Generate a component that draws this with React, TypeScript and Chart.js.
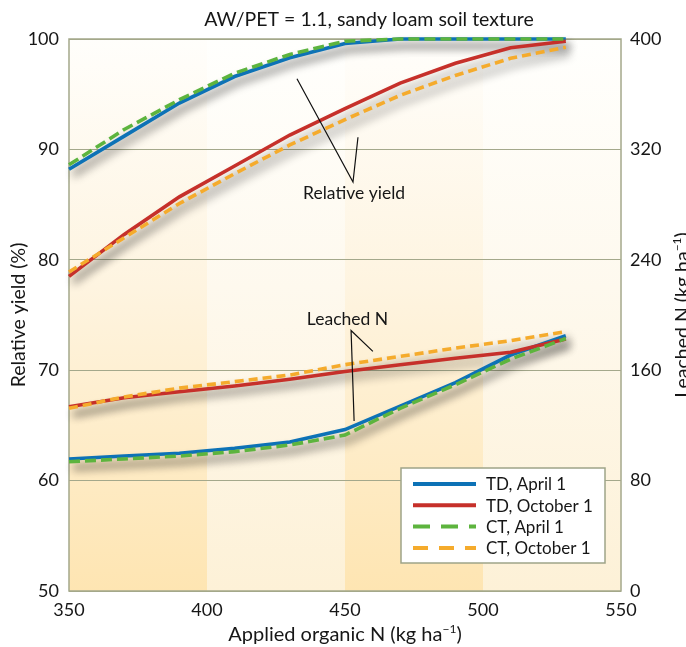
import React, { useEffect, useRef } from 'react';
import { Chart, registerables } from 'chart.js';

Chart.register(...registerables);

// ---------- data ----------
const appliedN = [350, 370, 390, 410, 430, 450, 470, 490, 510, 530];
const seriesLabels = ['TD, April 1', 'TD, October 1', 'CT, April 1', 'CT, October 1'];

const yieldTDApril = [88.2, 91.2, 94.2, 96.6, 98.3, 99.6, 100, 100, 100, 100];
const yieldTDOctober = [78.5, 82.3, 85.7, 88.5, 91.3, 93.7, 96.0, 97.8, 99.2, 99.8];
const yieldCTApril = [88.6, 91.8, 94.5, 96.9, 98.6, 99.8, 100, 100, 100, 100];
const yieldCTOctober = [78.9, 82.0, 85.1, 87.8, 90.4, 92.7, 94.9, 96.7, 98.25, 99.25];

const leachedTDApril = [95.7, 97.8, 99.8, 103.4, 108, 117, 134, 151, 171, 185];
const leachedTDOctober = [133.5, 140, 144.4, 148.6, 153.5, 159, 164, 168.6, 173, 182.6];
const leachedCTApril = [93.7, 95.7, 97.8, 101, 105.8, 113, 132.4, 149.5, 168, 183];
const leachedCTOctober = [132.4, 140.6, 147, 151.7, 156.5, 164, 170, 176, 181.4, 188];

const xTicks = [350, 400, 450, 500, 550];
const yieldTicks = [50, 60, 70, 80, 90, 100];
const leachedTicks = [0, 80, 160, 240, 320, 400];
const bandEdges = [350, 400, 450, 500, 550];

const titleText = 'AW/PET = 1.1, sandy loam soil texture';
const yieldAxisTitle = 'Relative yield (%)';
const xAxisTitle = 'Applied organic N (kg ha';
const leachedAxisTitle = 'Leached N (kg ha';

// annotation anchor points (x in applied N, y in relative yield units)
const yieldLabelPos = [453.3, 86.0];
const yieldArrowA = [[432.6, 96.4], [452.9, 87.05], [454.7, 91.1]];
const leachedLabelPos = [450.9, 74.6];
const leachedArrowA = [[453.3, 65.4], [452.2, 73.6], [460.1, 71.7]];

// ---------- style ----------
const FONT = 'Lato, "Open Sans", sans-serif';
const COLORS = ['#0d72b6', '#c6302a', '#5db43e', '#f5ab2c'];
const DASHES: number[][] = [[], [], [11, 5], [9, 5]];
const ORDERS = [4, 3, 2, 1];
const GRID = '#a4a88b';
const TEXT = '#161616';

function richText(ctx: CanvasRenderingContext2D, main: string, sup: string, tail: string, cx: number, baseline: number, size: number) {
  const supSize = Math.round(size * 0.62);
  ctx.font = `${size}px ${FONT}`;
  const w1 = ctx.measureText(main).width;
  const w3 = ctx.measureText(tail).width;
  ctx.font = `${supSize}px ${FONT}`;
  const w2 = ctx.measureText(sup).width;
  let x = cx - (w1 + w2 + w3) / 2;
  ctx.textAlign = 'left';
  ctx.textBaseline = 'alphabetic';
  ctx.font = `${size}px ${FONT}`;
  ctx.fillText(main, x, baseline);
  x += w1;
  ctx.font = `${supSize}px ${FONT}`;
  ctx.fillText(sup, x, baseline - size * 0.4);
  x += w2;
  ctx.font = `${size}px ${FONT}`;
  ctx.fillText(tail, x, baseline);
}

const decorPlugin = {
  id: 'decor',
  beforeDraw(chart: any) {
    const { ctx, chartArea: a, scales } = chart;
    const xs = scales.x;
    ctx.save();
    ctx.fillStyle = '#ffffff';
    ctx.fillRect(0, 0, chart.width, chart.height);
    for (let i = 0; i < bandEdges.length - 1; i++) {
      const x0 = xs.getPixelForValue(bandEdges[i]);
      const x1 = xs.getPixelForValue(bandEdges[i + 1]);
      const g = ctx.createLinearGradient(0, a.top, 0, a.bottom);
      if (i % 2 === 0) {
        g.addColorStop(0, '#fffefb');
        g.addColorStop(0.45, '#fef4e0');
        g.addColorStop(1, '#fee5b2');
      } else {
        g.addColorStop(0, '#fffffd');
        g.addColorStop(0.45, '#fef9ee');
        g.addColorStop(1, '#fdf1d7');
      }
      ctx.fillStyle = g;
      ctx.fillRect(x0, a.top, x1 - x0, a.bottom - a.top);
    }
    ctx.restore();
  },
  beforeDatasetsDraw(chart: any) {
    const { ctx, chartArea: a } = chart;
    ctx.save();
    ctx.strokeStyle = GRID;
    ctx.lineWidth = 1.5;
    ctx.strokeRect(a.left, a.top, a.right - a.left, a.bottom - a.top);
    // drop shadows under the lines
    const metas = chart.getSortedVisibleDatasetMetas();
    const OFF = 5000;
    metas.forEach((meta: any) => {
      const pts = meta.data;
      if (!pts.length) return;
      ctx.save();
      ctx.translate(-OFF, 0);
      ctx.shadowColor = 'rgba(0,0,0,0.3)';
      ctx.shadowBlur = 9;
      ctx.shadowOffsetX = OFF + 4;
      ctx.shadowOffsetY = 7;
      ctx.strokeStyle = '#000';
      ctx.lineWidth = 4.5;
      ctx.lineJoin = 'round';
      ctx.beginPath();
      pts.forEach((p: any, i: number) => (i ? ctx.lineTo(p.x, p.y) : ctx.moveTo(p.x, p.y)));
      ctx.stroke();
      ctx.restore();
    });
    ctx.restore();
  },
  afterDatasetsDraw(chart: any) {
    const { ctx, scales } = chart;
    const X = (v: number) => scales.x.getPixelForValue(v);
    const Y = (v: number) => scales.y.getPixelForValue(v);
    ctx.save();
    ctx.strokeStyle = '#111';
    ctx.lineWidth = 1.2;
    [yieldArrowA, leachedArrowA].forEach((arr) => {
      ctx.beginPath();
      arr.forEach((p, i) => (i ? ctx.lineTo(X(p[0]), Y(p[1])) : ctx.moveTo(X(p[0]), Y(p[1]))));
      ctx.stroke();
    });
    ctx.fillStyle = TEXT;
    ctx.font = `17.5px ${FONT}`;
    ctx.textAlign = 'center';
    ctx.textBaseline = 'middle';
    ctx.fillText('Relative yield', X(yieldLabelPos[0]), Y(yieldLabelPos[1]));
    ctx.fillText('Leached N', X(leachedLabelPos[0]), Y(leachedLabelPos[1]));
    ctx.restore();
  },
  afterDraw(chart: any) {
    const { ctx, chartArea: a } = chart;
    ctx.save();
    ctx.fillStyle = TEXT;
    // title
    ctx.font = `19.5px ${FONT}`;
    ctx.textAlign = 'center';
    ctx.textBaseline = 'alphabetic';
    ctx.fillText(titleText, (a.left + a.right) / 2 + 24, a.top - 13);
    // x title
    richText(ctx, xAxisTitle, '\u22121', ')', (a.left + a.right) / 2, chart.height - 6, 20);
    // left title
    ctx.save();
    ctx.translate(25, (a.top + a.bottom) / 2);
    ctx.rotate(-Math.PI / 2);
    ctx.font = `19.5px ${FONT}`;
    ctx.textAlign = 'center';
    ctx.textBaseline = 'alphabetic';
    ctx.fillText(yieldAxisTitle, 0, 0);
    ctx.restore();
    // right title (partly cut by the canvas edge, as in the original)
    ctx.save();
    ctx.translate(a.right + 68, (a.top + a.bottom) / 2);
    ctx.rotate(-Math.PI / 2);
    richText(ctx, leachedAxisTitle, '\u22121', ')', 0, 0, 19.5);
    ctx.restore();

    // legend
    const lw = 204, lh = 95;
    const lx = a.right - 220, ly = a.bottom - 123;
    ctx.fillStyle = '#ffffff';
    ctx.fillRect(lx, ly, lw, lh);
    ctx.strokeStyle = '#9ea488';
    ctx.lineWidth = 1.5;
    ctx.strokeRect(lx, ly, lw, lh);
    const ds = chart.data.datasets;
    for (let i = 0; i < 4; i++) {
      const cy = ly + 16 + i * 21.3;
      ctx.save();
      ctx.strokeStyle = ds[i].borderColor;
      ctx.lineWidth = 4;
      const d = ds[i].borderDash || [];
      ctx.setLineDash(d.length ? [d[0] + 6, d[1] + 6] : []);
      ctx.beginPath();
      ctx.moveTo(lx + 12, cy);
      ctx.lineTo(lx + 75, cy);
      ctx.stroke();
      ctx.restore();
      ctx.fillStyle = TEXT;
      ctx.font = `17px ${FONT}`;
      ctx.textAlign = 'left';
      ctx.textBaseline = 'middle';
      ctx.fillText(ds[i].label, lx + 85, cy + 1);
    }
    ctx.restore();
  },
};

const yieldSeries = [yieldTDApril, yieldTDOctober, yieldCTApril, yieldCTOctober];
const leachedSeries = [leachedTDApril, leachedTDOctober, leachedCTApril, leachedCTOctober];

export default function App() {
  const ref = useRef<HTMLCanvasElement | null>(null);
  useEffect(() => {
    if (!ref.current) return;
    const mk = (vals: number[]) => vals.map((v, i) => ({ x: appliedN[i], y: v }));
    const datasets: any[] = [];
    seriesLabels.forEach((label, i) => {
      datasets.push({
        label,
        data: mk(yieldSeries[i]),
        yAxisID: 'y',
        borderColor: COLORS[i],
        borderWidth: 3.6,
        borderDash: DASHES[i],
        pointRadius: 0,
        tension: 0,
        fill: false,
        clip: false,
        order: ORDERS[i],
      });
    });
    seriesLabels.forEach((label, i) => {
      datasets.push({
        label: label + ' (leached N)',
        data: mk(leachedSeries[i]),
        yAxisID: 'y2',
        borderColor: COLORS[i],
        borderWidth: 3.6,
        borderDash: DASHES[i],
        pointRadius: 0,
        tension: 0,
        fill: false,
        clip: false,
        order: ORDERS[i],
      });
    });
    const tickFont = { family: FONT, size: 18 };
    const chart = new Chart(ref.current, {
      type: 'line',
      data: { datasets },
      plugins: [decorPlugin],
      options: {
        responsive: false,
        animation: false,
        layout: { padding: { top: 39, left: 0, right: 0, bottom: 0 } },
        plugins: { legend: { display: false }, tooltip: { enabled: false }, title: { display: false } },
        scales: {
          x: {
            type: 'linear',
            min: 350,
            max: 550,
            afterBuildTicks: (s: any) => { s.ticks = xTicks.map((v) => ({ value: v })); },
            grid: { display: false, drawTicks: false },
            border: { display: false },
            ticks: { padding: 8, font: tickFont, color: TEXT, maxRotation: 0 },
            afterFit: (s: any) => { s.height = 56; },
          },
          y: {
            position: 'left',
            min: 50,
            max: 100,
            afterBuildTicks: (s: any) => { s.ticks = yieldTicks.map((v) => ({ value: v })); },
            grid: { color: GRID, lineWidth: 1, drawTicks: false },
            border: { display: false },
            ticks: { padding: 10, font: tickFont, color: TEXT },
            afterFit: (s: any) => { s.width = 69; },
          },
          y2: {
            position: 'right',
            min: 0,
            max: 400,
            afterBuildTicks: (s: any) => { s.ticks = leachedTicks.map((v) => ({ value: v })); },
            grid: { display: false, drawTicks: false },
            border: { display: false },
            ticks: { padding: 9, font: tickFont, color: TEXT },
            afterFit: (s: any) => { s.width = 65; },
          },
        },
      } as any,
    });
    return () => chart.destroy();
  }, []);
  return (
    <div style={{ position: 'fixed', left: 0, top: 0, width: 686, height: 647, background: '#fff' }}>
      <canvas ref={ref} width={686} height={647} style={{ display: 'block', width: 686, height: 647 }} />
    </div>
  );
}
